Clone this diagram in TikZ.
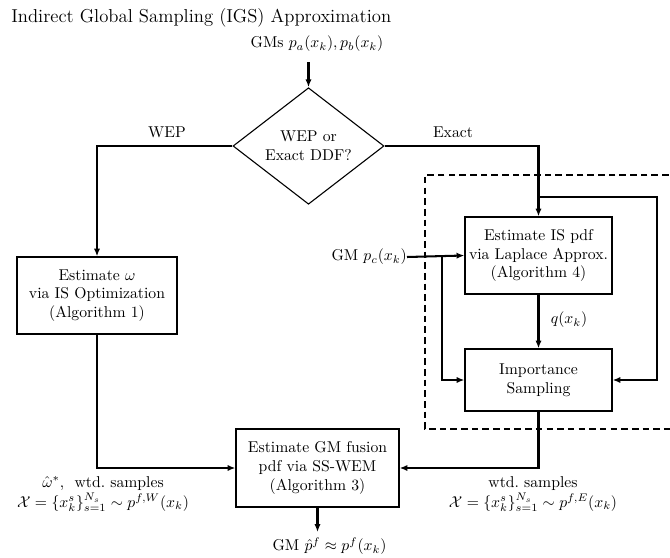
\documentclass[tikz,border=0pt]{standalone}
\usetikzlibrary{shapes.geometric,arrows.meta}
\begin{document}
\begin{tikzpicture}[x=0.637pt,y=-0.637pt,
  box/.style={draw,line width=0.8pt,align=center,inner sep=1pt,font=\normalsize},
  dec/.style={draw,diamond,line width=0.7pt,align=center,inner sep=0pt,minimum width=96.2pt,minimum height=58.6pt},
  conn/.style={line width=1.3pt,-{Latex[length=5pt,width=4pt]}},
  lbl/.style={inner sep=0pt,align=center}]
\useasboundingbox (0,0) rectangle (670,557);
\clip (0,0) rectangle (670,557);
% title
\node[anchor=base west,inner sep=0pt,font=\fontsize{11.9}{14}\selectfont] (title) at (11,22) {Indirect Global Sampling (IGS) Approximation};
% dashed region
\draw[line width=0.8pt,dash pattern=on 4.2pt off 2.6pt] (690,175) -- (425,175) -- (425,429) -- (690,429);
% nodes
\node[lbl] (gms) at (317,44) {GMs $p_a(x_k), p_b(x_k)$};
\coordinate (gmsend) at (308.5,62);
\node[dec] (dec) at (308.5,146) {WEP or\\Exact DDF?};
\node[box,minimum width=102pt,minimum height=49pt] (opt) at (97,295.5) {Estimate $\omega$\\via IS Optimization\\(Algorithm 1)};
\node[box,minimum width=93.6pt,minimum height=49pt] (lap) at (538.5,255.5) {Estimate IS pdf\\via Laplace Approx.\\(Algorithm 4)};
\node[box,minimum width=93.6pt,minimum height=39.5pt] (imp) at (538.5,380) {Importance\\Sampling};
\node[box,minimum width=103.8pt,minimum height=49.7pt] (fus) at (317.5,468) {Estimate GM fusion\\pdf via SS-WEM\\(Algorithm 3)};
\node[lbl,anchor=east] (gmc) at (407,257) {GM $p_c(x_k)$};
\coordinate (br) at (442,257);
\coordinate (ex) at (538.5,146);
\coordinate (loopa) at (538.5,197);
\coordinate (loopb) at (657,197);
\coordinate (loopc) at (657,380);
\coordinate (wep) at (97,146);
\coordinate (lcorner) at (97,468);
\coordinate (rcorner) at (538.5,468);
\coordinate (outend) at (317.5,532);
% labels
\node[lbl] (lwep) at (167,132) {WEP};
\node[lbl] (lexact) at (453,132) {Exact};
\node[lbl] (lq) at (569,320) {$q(x_k)$};
\node[lbl] (lleft) at (103,494) {$\hat{\omega}^*$,\ \ wtd.\ samples\\[1pt]$\mathcal{X}=\{x_k^s\}_{s=1}^{N_s}\sim p^{f,W}(x_k)$};
\node[lbl] (lright) at (533,494) {wtd.\ samples\\[1pt]$\mathcal{X}=\{x_k^s\}_{s=1}^{N_s}\sim p^{f,E}(x_k)$};
\node[lbl] (lout) at (329.5,546) {GM $\hat{p}^f\approx p^f(x_k)$};
% connectors
\draw[conn] (gmsend) -- (dec.north);
\draw[conn] (dec.west) -- (wep) -- (opt.north);
\draw[conn] (dec.east) -- (ex) -- (lap.north);
\draw[conn] (loopa) -- (loopb) -- (loopc) -- (imp.east);
\draw[conn] (gmc.east) -- (lap.west);
\draw[conn] (br) |- (imp.west);
\draw[conn] (lap.south) -- (imp.north);
\draw[conn] (opt.south) -- (lcorner) -- (fus.west);
\draw[conn] (imp.south) -- (rcorner) -- (fus.east);
\draw[conn] (fus.south) -- (outend);
\end{tikzpicture}
\end{document}
